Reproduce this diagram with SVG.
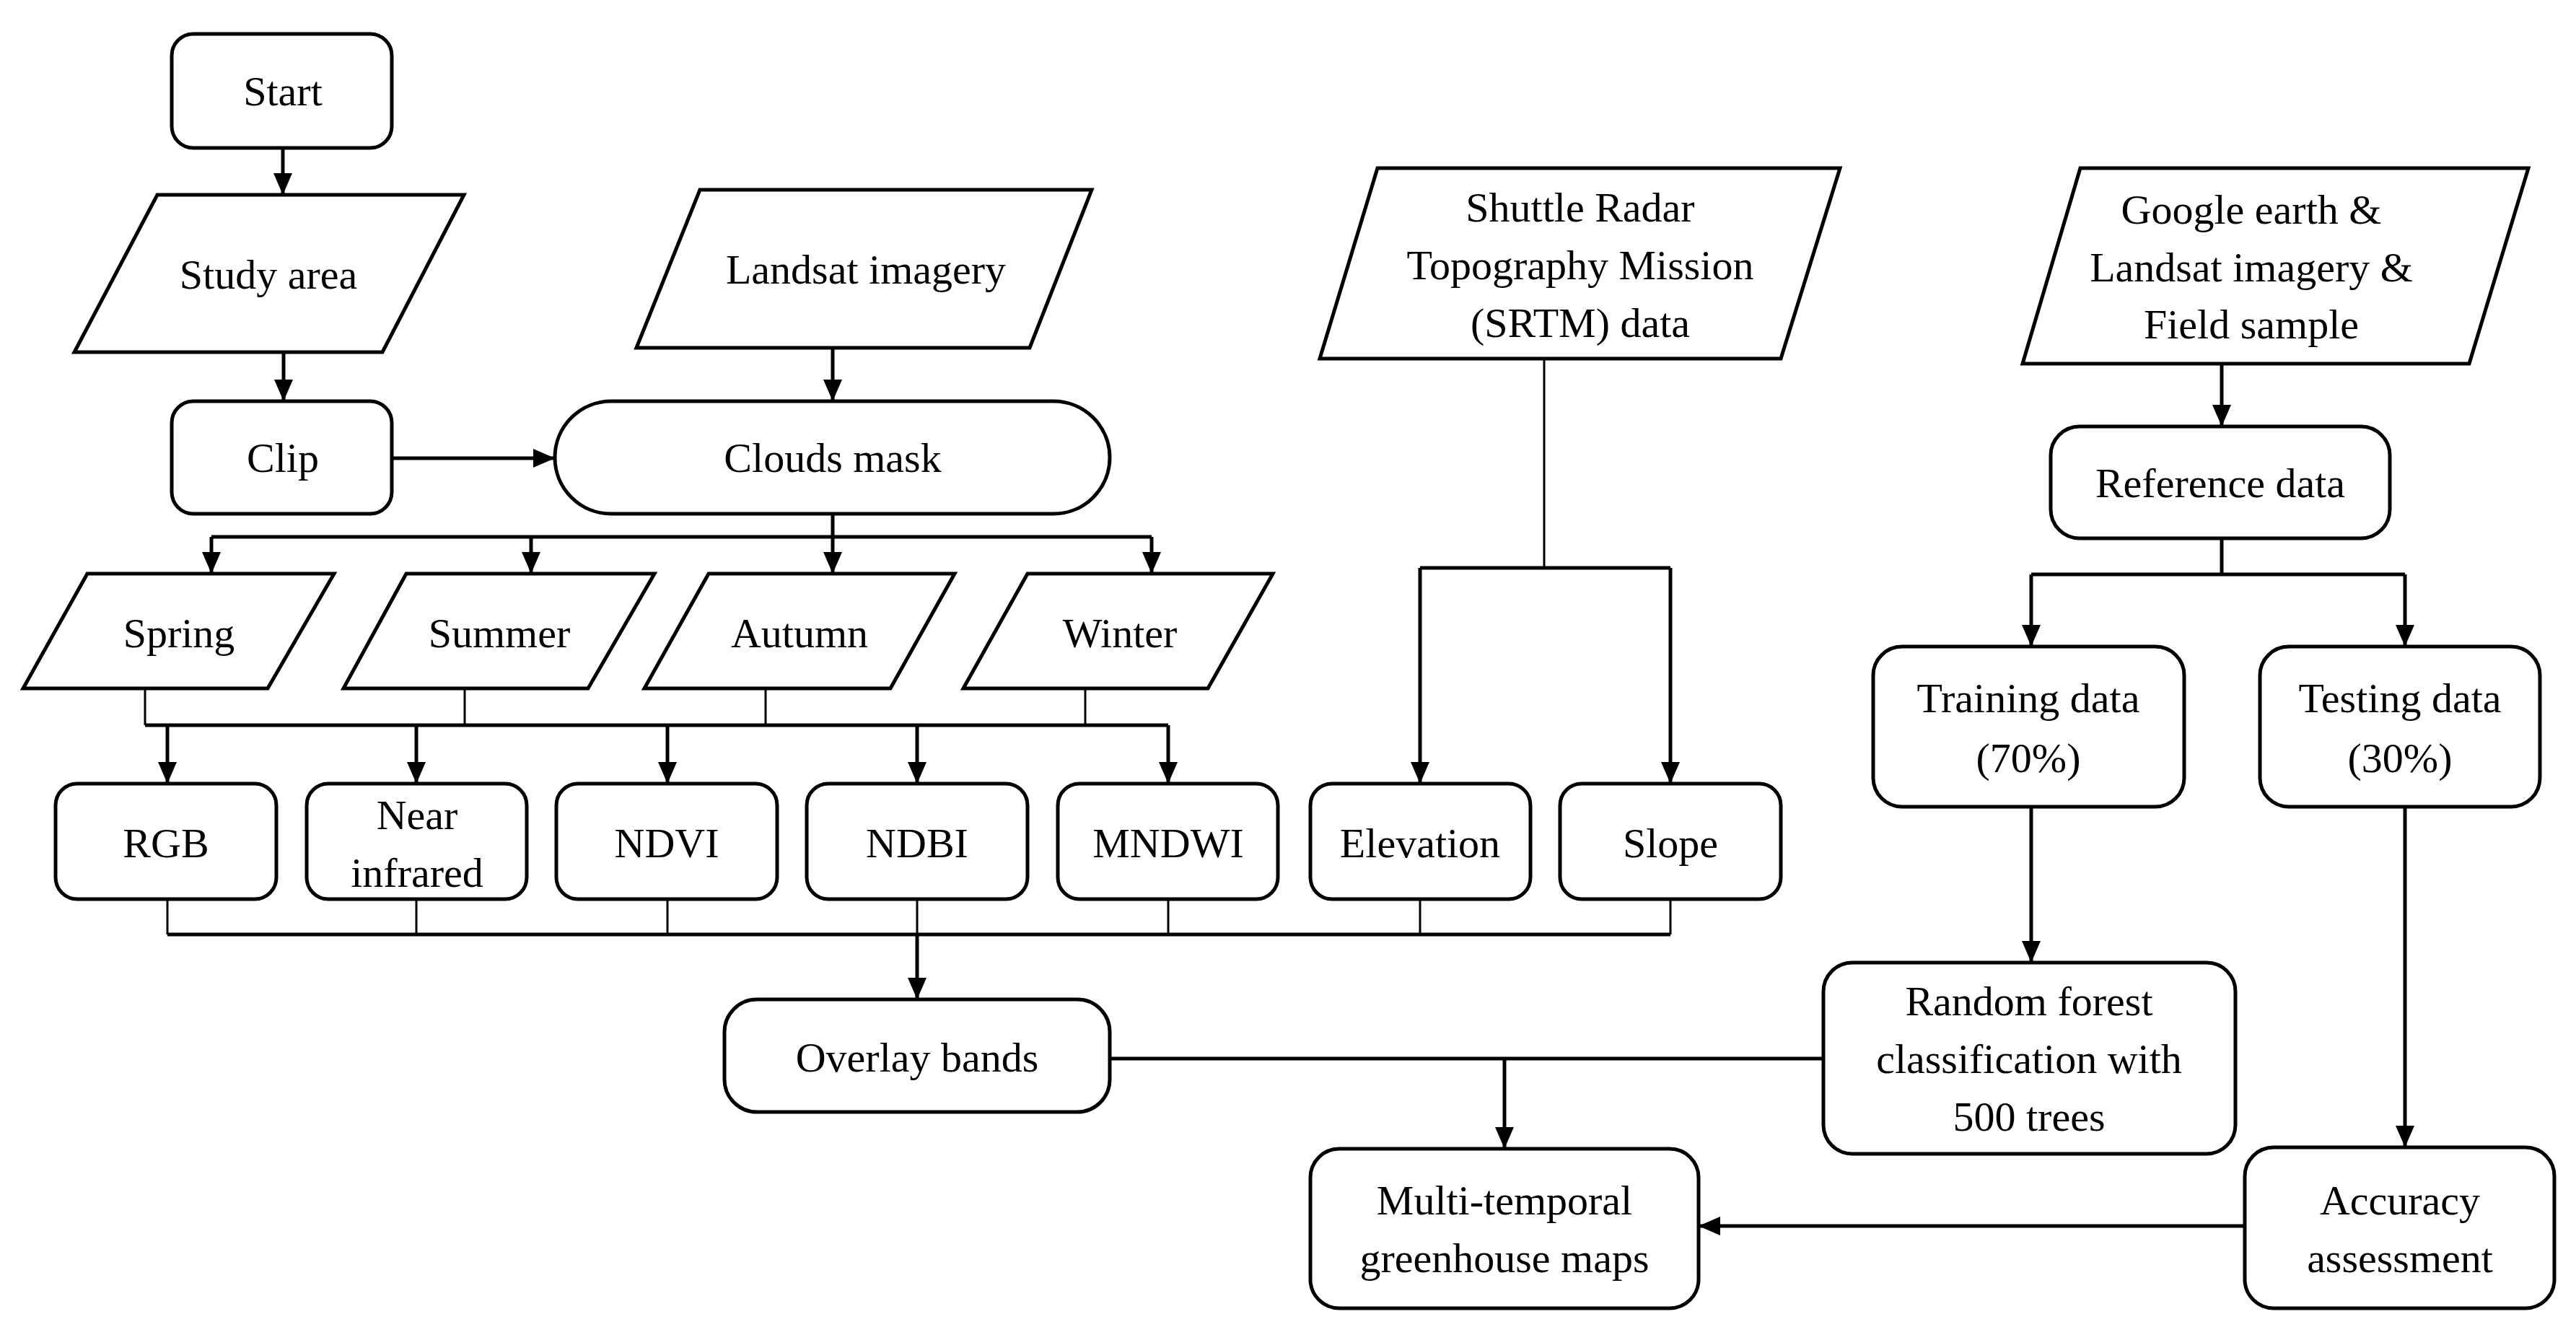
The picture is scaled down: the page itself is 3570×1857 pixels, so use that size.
<svg xmlns="http://www.w3.org/2000/svg" width="3570" height="1857" viewBox="0 0 3570 1857">
<style>
.n{fill:#fff;stroke:#000;stroke-width:5}
.t{font-family:"Liberation Serif","Times New Roman",serif;font-size:58px;text-anchor:middle;dominant-baseline:central;fill:#000}
.c{fill:none;stroke:#000;stroke-width:5}
.th{fill:none;stroke:#000;stroke-width:3}
</style>
<defs>
<marker id="a" markerUnits="userSpaceOnUse" markerWidth="30" markerHeight="26" refX="30" refY="13" orient="auto"><path d="M0,0 L30,13 L0,26 Z" fill="#000"/></marker>
</defs>
<rect width="3570" height="1857" fill="#fff"/>
<g id="connectors">
<path class="c" d="M392,205 V270" marker-end="url(#a)"/>
<path class="c" d="M393,488 V556" marker-end="url(#a)"/>
<path class="c" d="M1154,482 V556" marker-end="url(#a)"/>
<path class="c" d="M543,635 H769" marker-end="url(#a)"/>
<path class="c" d="M1154,712 V795" marker-end="url(#a)"/>
<path class="c" d="M293,744 H1596"/>
<path class="c" d="M293,744 V795" marker-end="url(#a)"/>
<path class="c" d="M736,744 V795" marker-end="url(#a)"/>
<path class="c" d="M1596,744 V795" marker-end="url(#a)"/>
<path class="th" d="M201,954 V1005 M644,954 V1005 M1061,954 V1005 M1504,954 V1005"/>
<path class="c" d="M201,1005 H1619"/>
<path class="c" d="M232,1005 V1086" marker-end="url(#a)"/>
<path class="c" d="M577,1005 V1086" marker-end="url(#a)"/>
<path class="c" d="M925,1005 V1086" marker-end="url(#a)"/>
<path class="c" d="M1271,1005 V1086" marker-end="url(#a)"/>
<path class="c" d="M1619,1005 V1086" marker-end="url(#a)"/>
<path class="th" d="M232,1246 V1295 M577,1246 V1295 M925,1246 V1295 M1271,1246 V1295 M1619,1246 V1295 M1968,1246 V1295 M2315,1246 V1295"/>
<path class="c" d="M232,1295 H2315"/>
<path class="c" d="M1271,1295 V1385" marker-end="url(#a)"/>
<path class="th" d="M2140,497 V787"/>
<path class="c" d="M1968,787 H2315"/>
<path class="c" d="M1968,787 V1086" marker-end="url(#a)"/>
<path class="c" d="M2315,787 V1086" marker-end="url(#a)"/>
<path class="c" d="M3079,504 V591" marker-end="url(#a)"/>
<path class="c" d="M3079,746 V796"/>
<path class="c" d="M2815,796 H3333"/>
<path class="c" d="M2815,796 V896" marker-end="url(#a)"/>
<path class="c" d="M3333,796 V896" marker-end="url(#a)"/>
<path class="c" d="M2815,1118 V1334" marker-end="url(#a)"/>
<path class="c" d="M3333,1118 V1590" marker-end="url(#a)"/>
<path class="c" d="M1538,1467 H2527"/>
<path class="c" d="M2085,1467 V1592" marker-end="url(#a)"/>
<path class="c" d="M3111,1699 H2354" marker-end="url(#a)"/>
</g>
<g id="start"><rect class="n" x="238" y="47" width="305" height="158" rx="30"/><text class="t" x="392" y="126">Start</text></g>
<g id="study"><polygon class="n" points="218,270 643,270 530,488 103,488"/><text class="t" x="372" y="380">Study area</text></g>
<g id="clip"><rect class="n" x="238" y="556" width="305" height="156" rx="30"/><text class="t" x="392" y="634">Clip</text></g>
<g id="landsat"><polygon class="n" points="970,263 1513,263 1427,482 882,482"/><text class="t" x="1200" y="373">Landsat imagery</text></g>
<g id="clouds"><rect class="n" x="769" y="556" width="769" height="156" rx="78"/><text class="t" x="1154" y="634">Clouds mask</text></g>
<g id="spring"><polygon class="n" points="121,795 463,795 371,954 32,954"/><text class="t" x="248" y="877">Spring</text></g>
<g id="summer"><polygon class="n" points="563,795 907,795 815,954 476,954"/><text class="t" x="692" y="877">Summer</text></g>
<g id="autumn"><polygon class="n" points="982,795 1323,795 1234,954 893,954"/><text class="t" x="1108" y="877">Autumn</text></g>
<g id="winter"><polygon class="n" points="1424,795 1764,795 1674,954 1335,954"/><text class="t" x="1552" y="877">Winter</text></g>
<g id="rgb"><rect class="n" x="77" y="1086" width="306" height="160" rx="30"/><text class="t" x="230" y="1168">RGB</text></g>
<g id="nir"><rect class="n" x="425" y="1086" width="305" height="160" rx="30"/><text class="t" x="578" y="1129">Near</text><text class="t" x="578" y="1209">infrared</text></g>
<g id="ndvi"><rect class="n" x="771" y="1086" width="306" height="160" rx="30"/><text class="t" x="924" y="1168">NDVI</text></g>
<g id="ndbi"><rect class="n" x="1118" y="1086" width="306" height="160" rx="30"/><text class="t" x="1271" y="1168">NDBI</text></g>
<g id="mndwi"><rect class="n" x="1466" y="1086" width="305" height="160" rx="30"/><text class="t" x="1619" y="1168">MNDWI</text></g>
<g id="elevation"><rect class="n" x="1816" y="1086" width="305" height="160" rx="30"/><text class="t" x="1968" y="1168">Elevation</text></g>
<g id="slope"><rect class="n" x="2162" y="1086" width="306" height="160" rx="30"/><text class="t" x="2315" y="1168">Slope</text></g>
<g id="overlay"><rect class="n" x="1004" y="1385" width="534" height="156" rx="45"/><text class="t" x="1271" y="1465">Overlay bands</text></g>
<g id="srtm"><polygon class="n" points="1909,233 2550,233 2468,497 1829,497"/><text class="t" x="2190" y="287">Shuttle Radar</text><text class="t" x="2190" y="367">Topography Mission</text><text class="t" x="2190" y="447">(SRTM) data</text></g>
<g id="google"><polygon class="n" points="2883,233 3504,233 3422,504 2803,504"/><text class="t" x="3120" y="290">Google earth &amp;</text><text class="t" x="3120" y="370">Landsat imagery &amp;</text><text class="t" x="3120" y="449">Field sample</text></g>
<g id="reference"><rect class="n" x="2842" y="591" width="470" height="155" rx="40"/><text class="t" x="3077" y="669">Reference data</text></g>
<g id="training"><rect class="n" x="2596" y="896" width="431" height="222" rx="40"/><text class="t" x="2811" y="967">Training data</text><text class="t" x="2811" y="1050">(70%)</text></g>
<g id="testing"><rect class="n" x="3132" y="896" width="388" height="222" rx="40"/><text class="t" x="3326" y="967">Testing data</text><text class="t" x="3326" y="1050">(30%)</text></g>
<g id="rf"><rect class="n" x="2527" y="1334" width="571" height="265" rx="40"/><text class="t" x="2812" y="1387">Random forest</text><text class="t" x="2812" y="1467">classification with</text><text class="t" x="2812" y="1547">500 trees</text></g>
<g id="maps"><rect class="n" x="1816" y="1592" width="538" height="221" rx="40"/><text class="t" x="2085" y="1663">Multi-temporal</text><text class="t" x="2085" y="1743">greenhouse maps</text></g>
<g id="accuracy"><rect class="n" x="3111" y="1590" width="429" height="223" rx="40"/><text class="t" x="3326" y="1663">Accuracy</text><text class="t" x="3326" y="1743">assessment</text></g>
</svg>
